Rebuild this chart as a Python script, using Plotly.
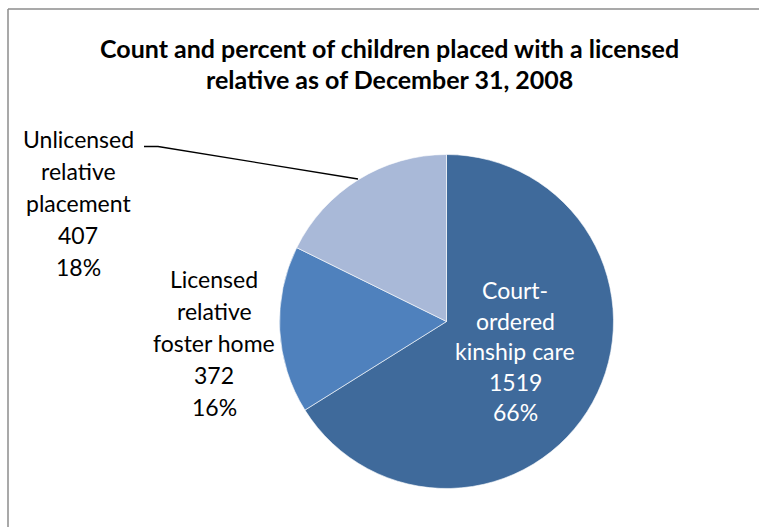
import plotly.graph_objects as go

W, H = 759, 527

categories = ["Court-ordered kinship care", "Licensed relative foster home", "Unlicensed relative placement"]
label_lines = [["Court-", "ordered", "kinship care"], ["Licensed", "relative", "foster home"], ["Unlicensed", "relative", "placement"]]
counts = [1519, 372, 407]
colors = ["#3F6A9B", "#4F81BD", "#A9B9D8"]
title_lines = ["Count and percent of children placed with a licensed", "relative as of December 31, 2008"]

FONT = "Lato"

def px(x):
    return x / W

def py(y):
    return 1 - y / H

cx, cy, r = 446.5, 321.5, 167

fig = go.Figure(go.Pie(
    labels=categories,
    values=counts,
    sort=False,
    direction="clockwise",
    rotation=0,
    textinfo="none",
    hoverinfo="label+value+percent",
    marker=dict(colors=colors, line=dict(color="rgba(255,255,255,0.6)", width=1)),
    domain=dict(x=[px(cx - r), px(cx + r)], y=[py(cy + r), py(cy - r)]),
    showlegend=False,
))

total = sum(counts)
# label block positions (center x, first baseline y, spacing) and colors
blocks = [(515, 298, 30.5, "white"), (214, 287, 32, "black"), (78, 147, 32, "black")]
annotations = []
fs = 23
for i, (bx, by, sp, col) in enumerate(blocks):
    lines = label_lines[i] + [str(counts[i]), f"{round(100 * counts[i] / total)}%"]
    for k, t in enumerate(lines):
        annotations.append(dict(
            x=px(bx), y=py(by + k * sp - 8), xref="paper", yref="paper",
            text=t, showarrow=False, xanchor="center", yanchor="middle",
            font=dict(family=FONT, size=fs, color=col),
        ))

# title lines
for k, t in enumerate(title_lines):
    annotations.append(dict(
        x=px(389.5), y=py(56 + k * 31 - 8), xref="paper", yref="paper",
        text=f"<b>{t}</b>", showarrow=False, xanchor="center", yanchor="middle",
        font=dict(family=FONT, size=25, color="black"),
    ))

shapes = [
    # chart border (top and left visible)
    dict(type="line", xref="paper", yref="paper", x0=px(8), x1=1, y0=py(9), y1=py(9),
         line=dict(color="#8C8C8C", width=1.5)),
    dict(type="line", xref="paper", yref="paper", x0=px(8), x1=px(8), y0=py(9), y1=0,
         line=dict(color="#8C8C8C", width=1.5)),
    # leader line
    dict(type="path", xref="paper", yref="paper",
         path=f"M {px(144)} {py(146.5)} L {px(158)} {py(146.5)} L {px(358)} {py(179)}",
         line=dict(color="black", width=1.3)),
]

fig.update_layout(
    width=W, height=H,
    margin=dict(l=0, r=0, t=0, b=0),
    paper_bgcolor="white",
    plot_bgcolor="white",
    annotations=annotations,
    shapes=shapes,
)

fig.write_html("out.html", config={"displayModeBar": False})

# remove default page margins so the chart fills the window exactly
with open("out.html", encoding="utf-8") as f:
    html = f.read()
html = html.replace("<head>", "<head><style>html,body{margin:0;padding:0;overflow:hidden;}</style>", 1)
with open("out.html", "w", encoding="utf-8") as f:
    f.write(html)
